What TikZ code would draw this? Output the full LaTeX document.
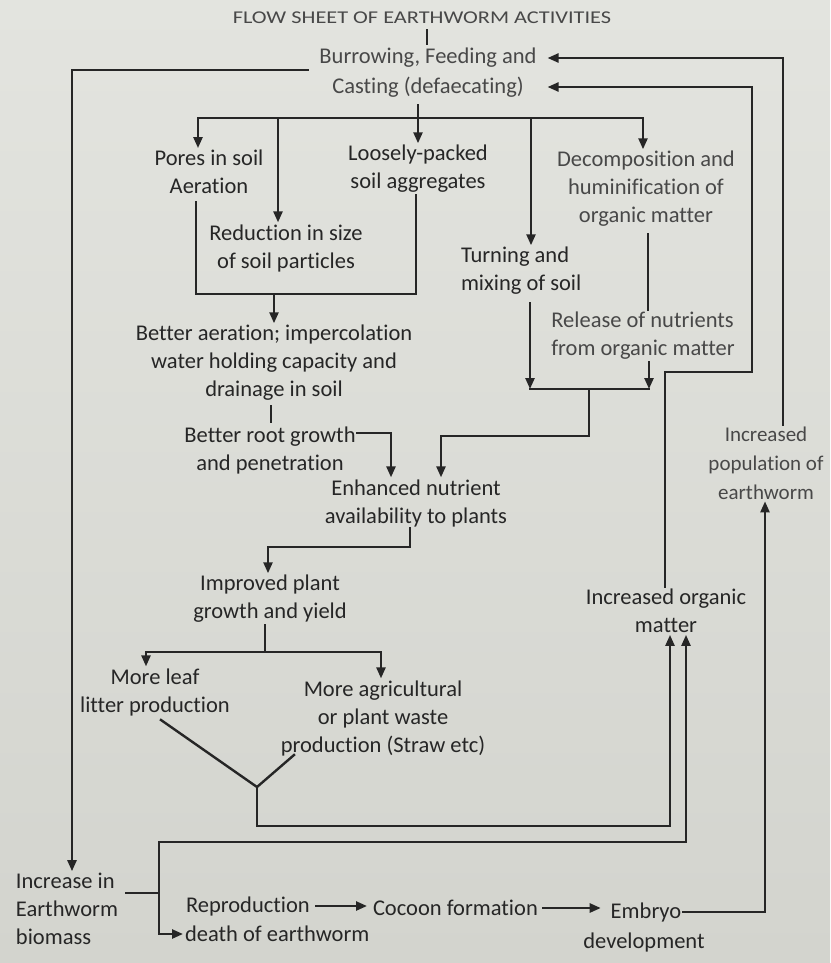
\documentclass[tikz,border=0pt]{standalone}
\usepackage{fontspec}
\setmainfont{Carlito}[Ligatures=NoCommon]
\usetikzlibrary{arrows.meta}
\definecolor{ink}{HTML}{262626}
\definecolor{inklight}{HTML}{484848}
\definecolor{papertop}{HTML}{E3E4DF}
\definecolor{paperbot}{HTML}{D3D4CE}
\begin{document}
\begin{tikzpicture}[x=1pt,y=-1pt,
  txt/.style={font=\fontsize{22.5}{28}\selectfont, text=ink, inner sep=0pt, outer sep=2pt, align=center},
  ltxt/.style={txt, text=inklight},
  ln/.style={draw=ink, line width=2.4pt, line cap=rect},
  arr/.style={ln, -{Triangle[length=11pt,width=9pt]}},
  darr/.style={ln, {Triangle[length=11pt,width=9pt]}-{Triangle[length=11pt,width=9pt]}}]
\shade[top color=papertop, bottom color=paperbot] (0,0) rectangle (830,963);
\useasboundingbox (0,0) rectangle (830,963);

% ---------- nodes ----------
\node[ltxt] (title) at (422,18) {\scalebox{1.24}[1]{\fontsize{18}{22}\selectfont FLOW SHEET OF EARTHWORM ACTIVITIES}};
\node[ltxt] (bA) at (428,58) {Burrowing, Feeding and};
\node[ltxt] (bB) at (428,87) {Casting (defaecating)};
\node[txt] (pores) at (209,172) {Pores in soil\\Aeration};
\node[txt] (loose) at (418,169) {Loosely-packed\\soil aggregates};
\node[ltxt] (decomp) at (646,189) {Decomposition and\\huminification of\\organic matter};
\node[txt] (reduction) at (286,248) {Reduction in size\\of soil particles};
\node[txt, align=left, anchor=west] (turning) at (459,271) {Turning and\\mixing of soil};
\node[ltxt, align=left] (release) at (643,336) {Release of nutrients\\from organic matter};
\node[txt] (betteraer) at (274,363) {Better aeration; impercolation\\water holding capacity and\\drainage in soil};
\node[txt] (root) at (270,450) {Better root growth\\and penetration};
\node[txt] (enhanced) at (416,503) {Enhanced nutrient\\availability to plants};
\node[txt] (improved) at (270,599) {Improved plant\\growth and yield};
\node[txt] (incorg) at (666,611) {Increased organic\\matter};
\node[ltxt, font=\fontsize{21}{29}\selectfont] (incpop) at (766,463) {Increased\\population of\\earthworm};
\node[txt] (moreleaf) at (155,692) {More leaf\\litter production};
\node[txt] (moreagri) at (383,718) {More agricultural\\or plant waste\\production (Straw etc)};
\node[txt, align=left, anchor=west] (incbio) at (14,909) {Increase in\\Earthworm\\biomass};
\node[txt, anchor=west] (repro) at (184,906) {Reproduction};
\node[txt, anchor=west] (death) at (183,934) {death of earthworm};
\node[txt, anchor=west] (cocoon) at (371,908) {Cocoon formation};
\node[txt] (embryo) at (646,912) {Embryo};
\node[txt] (devel) at (644,942) {development};

% ---------- coordinates ----------
\coordinate (L1) at (72,70);
\coordinate (b1) at (198,118);
\coordinate (b2) at (278,118);
\coordinate (b4) at (531,118);
\coordinate (b5) at (643,118);
\coordinate (m1) at (196,294);
\coordinate (m2) at (416,294);
\coordinate (m3) at (274,294);
\coordinate (t1) at (271,0);
\coordinate (r1) at (391,433);
\coordinate (j1) at (530,389);
\coordinate (j2) at (649,389);
\coordinate (j3) at (589,389);
\coordinate (j4) at (441,436);
\coordinate (d1) at (648,0);
\coordinate (e1) at (410,547);
\coordinate (e2) at (268,547);
\coordinate (s0) at (265,652);
\coordinate (s1) at (146,652);
\coordinate (s2) at (381,652);
\coordinate (v0) at (257,787);
\coordinate (v1) at (161,720);
\coordinate (v2) at (294,755);
\coordinate (v3) at (257,826);
\coordinate (v4) at (670,826);
\coordinate (k0) at (159,842);
\coordinate (k1) at (159,893);
\coordinate (k2) at (686,842);
\coordinate (p1) at (765,0);
\coordinate (o1) at (783,58);
\coordinate (i1) at (665,372);
\coordinate (i2) at (752,372);
\coordinate (tipA) at ([xshift=9pt]bA.east);

% ---------- connectors ----------
\draw[ln] (title.south) ++(5,4) -- ++(0,14);
\draw[arr] (bA.west |- L1) ++(-10,0) -- (L1) -- (L1 |- incbio.north);
\draw[ln] (b1) -- (b5);
\draw[arr] (bB.south -| loose.north) ++(0,6) -- (loose.north);
\draw[arr] (b1) -- (b1 |- pores.north);
\draw[arr] (b2) -- (b2 |- reduction.north);
\draw[arr] (b4) -- (b4 |- turning.north);
\draw[arr] (b5) -- (b5 |- decomp.north);
\draw[ln] (m1 |- pores.south) ++(0,6) -- (m1) -- (m2) -- (m2 |- loose.south);
\draw[arr] (m3) -- (m3 |- betteraer.north);
\draw[ln] (betteraer.south -| t1) ++(0,3) -- ++(0,16);
\draw[arr] (root.east |- r1) -- (r1) -- (r1 |- enhanced.north);
\draw[ln] (decomp.south -| d1) ++(0,5) -- (d1 |- release.north);
\draw[arr] (j1 |- turning.south) ++(0,6) -- (j1);
\draw[arr] (j2 |- release.south) -- (j2);
\draw[ln] (j1) -- (j2);
\draw[arr] (j3) -- (j3 |- j4) -- (j4) -- (j4 |- enhanced.north);
\draw[arr] (e1 |- enhanced.south) -- (e1) -- (e2) -- (e2 |- improved.north);
\draw[ln] (s0 |- improved.south) -- (s0);
\draw[arr] (s0) -- (s1) -- (s1 |- moreleaf.north);
\draw[arr] (s0) -- (s2) -- (s2 |- moreagri.north);
\draw[ln] (v1) -- (v0) -- (v2);
\draw[arr] (v0) -- (v3) -- (v4) -- (v4 |- incorg.south);
\draw[ln] (incbio.east |- k1) ++(6,0) -- (k1);
\draw[darr] (death.west) -- (death.west -| k0) -- (k0) -- (k2) -- (k2 |- incorg.south);
\draw[arr, shorten <=4pt, shorten >=4pt] (repro.east) -- (cocoon.west |- repro.east);
\draw[arr, shorten <=3pt, shorten >=8pt] (cocoon.east) -- (embryo.west |- cocoon.east);
\draw[arr] (embryo.east) -- (embryo.east -| p1) -- (p1 |- incpop.south);
\draw[arr] (o1 |- incpop.north) -- (o1) -- (tipA);
\draw[arr] (i1 |- incorg.north) -- (i1) -- (i2) -- (i2 |- bB.east) -- (tipA |- bB.east);
\end{tikzpicture}
\end{document}
